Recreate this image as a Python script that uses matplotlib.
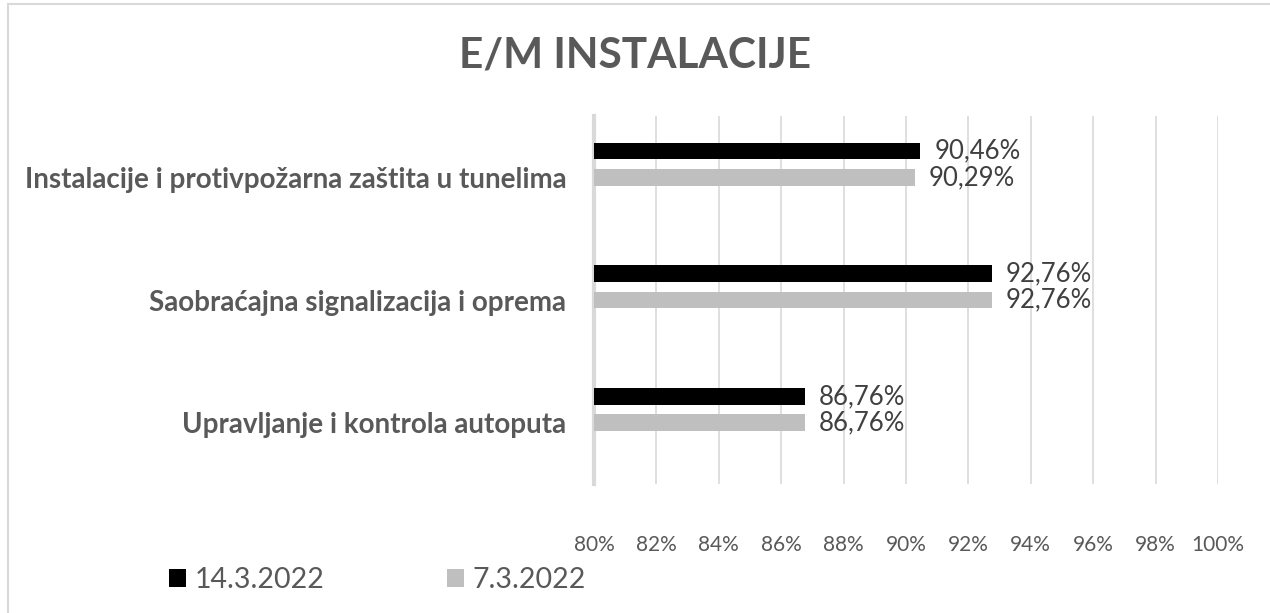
import matplotlib
matplotlib.use("Agg")
import matplotlib.pyplot as plt
from matplotlib.patches import Patch, Rectangle
import numpy as np

plt.rcParams['font.family'] = ['Lato', 'DejaVu Sans']

categories = ["Upravljanje i kontrola autoputa",
              "Saobraćajna signalizacija i oprema",
              "Instalacije i protivpožarna zaštita u tunelima"]
series_names = ["14.3.2022", "7.3.2022"]
values_new = [86.76, 92.76, 90.46]
values_old = [86.76, 92.76, 90.29]
xticks = [80, 82, 84, 86, 88, 90, 92, 94, 96, 98, 100]
title = "E/M INSTALACIJE"

W, H = 1270, 613
fig = plt.figure(figsize=(W / 100, H / 100), dpi=100)
ax = fig.add_axes([594 / W, 1 - 484 / H, (1218 - 594) / W, (484 - 116) / H])

y = np.arange(len(categories))
bar_h = 0.136
off = 0.214
b1 = ax.barh(y + off, np.array(values_new) - 80, left=80, height=bar_h, color="#000000", zorder=3)
b2 = ax.barh(y, np.array(values_old) - 80, left=80, height=bar_h, color="#bfbfbf", zorder=3)

def fmt(v):
    return f"{v:.2f}".replace(".", ",") + "%"

ax.bar_label(b1, labels=[fmt(v) for v in values_new], padding=10, fontsize=18.5, color="#404040")
ax.bar_label(b2, labels=[fmt(v) for v in values_old], padding=10, fontsize=18.5, color="#404040")

ax.set_xlim(80, 100)
ax.set_ylim(-0.5, len(categories) - 0.5)
ax.set_xticks(xticks)
ax.set_xticklabels([f"{t}%" for t in xticks], fontsize=15, color="#595959")
ax.set_yticks(y)
ax.set_yticklabels(categories, fontsize=20, fontweight="bold", color="#595959")
ax.tick_params(axis="both", length=0)
ax.tick_params(axis="x", pad=37)
ax.tick_params(axis="y", pad=20)
ax.grid(axis="x", color="#d9d9d9", linewidth=1.2, zorder=0)
for s in ["top", "right", "bottom"]:
    ax.spines[s].set_visible(False)
ax.spines["left"].set_color("#d9d9d9")
ax.spines["left"].set_linewidth(3)

fig.text(0.5, 1 - 55 / H, title, ha="center", va="center", fontsize=30.5,
         fontweight="bold", color="#595959")

handles = [Patch(facecolor="#000000"), Patch(facecolor="#bfbfbf")]
fig.legend(handles, series_names, loc="center left", bbox_to_anchor=(143 / W, 1 - 580 / H),
           ncol=2, frameon=False, fontsize=20.5, labelcolor="#595959",
           handlelength=0.6, handleheight=0.6, handletextpad=0.3, columnspacing=4.3)

fig.patches.append(Rectangle((8 / W, -0.01), 1.1, 1 - 4 / H + 0.01, transform=fig.transFigure,
                             fill=False, edgecolor="#d9d9d9", linewidth=1.5))

fig.savefig("out.png", dpi=100, facecolor="white")
